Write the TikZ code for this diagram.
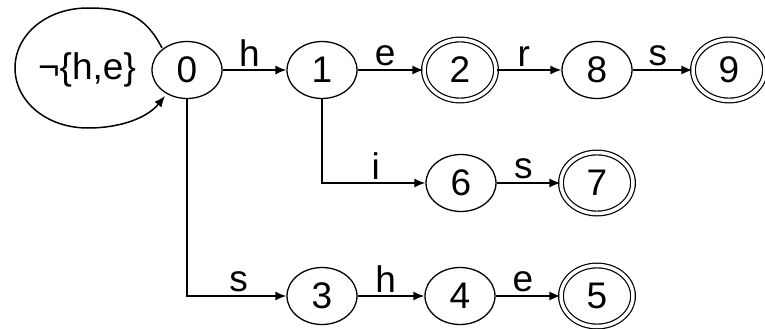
\documentclass[tikz,border=0pt]{standalone}
\usepackage{fontspec}
\setmainfont{Liberation Sans}
\usetikzlibrary{shapes.geometric,arrows.meta}
\begin{document}
\begin{tikzpicture}[x=1pt,y=-1pt,
  font=\fontsize{37}{40}\selectfont,
  every path/.style={line width=1.5pt},
  state/.style={ellipse,draw,line width=1.3pt,minimum width=70pt,minimum height=57pt,inner sep=0pt},
  final/.style={state,double,double distance=3.5pt,line width=1.2pt,minimum width=72pt,minimum height=61pt},
  edge/.style={-{Latex[length=11pt,width=9pt]}},
  lab/.style={above,inner sep=3pt}]
\useasboundingbox (0,0) rectangle (765,329);
% states
\node[state] (n0) at (187,70) {0};
\node[state] (n1) at (322,70) {1};
\node[final] (n2) at (460,70) {2};
\node[state] (n8) at (597,70) {8};
\node[final] (n9) at (729,70) {9};
\node[state] (n6) at (461,183) {6};
\node[final] (n7) at (597,183) {7};
\node[state] (n3) at (322,296) {3};
\node[state] (n4) at (460,296) {4};
\node[final] (n5) at (597,296) {5};
% self loop on the start state
\coordinate (ls) at (162,48);
\coordinate (le) at (165,96);
\draw[edge] (ls) .. controls (145,15) and (125,8) .. (88,8)
  .. controls (46,8) and (15,35) .. (15,68)
  .. controls (15,101) and (46,128) .. (88,128)
  .. controls (122,128) and (148,117) .. (le);
\node (loop) at (87,70) {¬\{h,e\}};
% transitions
\draw[edge] (n0) -- node[lab,pos=0.42] {h} (n1);
\draw[edge] (n1) -- node[lab,pos=0.42] {e} (n2);
\draw[edge] (n2) -- node[lab,pos=0.42] {r} (n8);
\draw[edge] (n8) -- node[lab,pos=0.42] {s} (n9);
\draw[edge] (n1) |- node[lab,pos=0.76] {i} (n6);
\draw[edge] (n6) -- node[lab,pos=0.42] {s} (n7);
\draw[edge] (n0) |- node[lab,pos=0.76] {s} (n3);
\draw[edge] (n3) -- node[lab,pos=0.42] {h} (n4);
\draw[edge] (n4) -- node[lab,pos=0.42] {e} (n5);
\end{tikzpicture}
\end{document}
